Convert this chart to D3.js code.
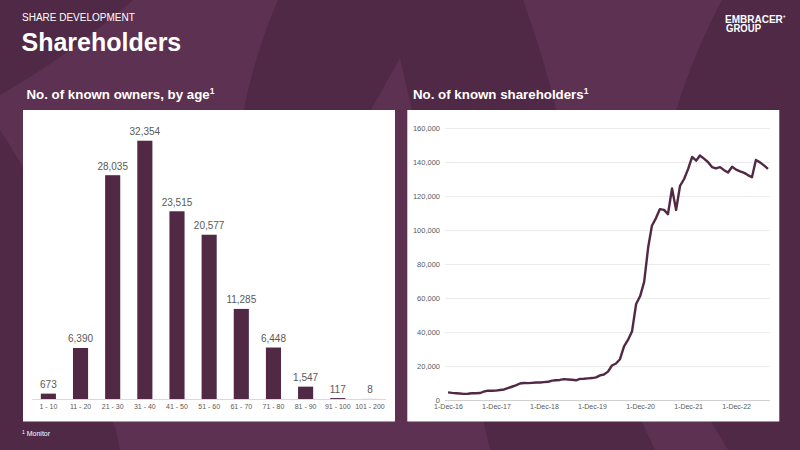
<!DOCTYPE html>
<html>
<head>
<meta charset="utf-8">
<script src="https://cdn.jsdelivr.net/npm/d3@7"></script>
<style>
html,body{margin:0;padding:0;background:#4f2946;}
svg{display:block;font-family:"Liberation Sans",Arial,sans-serif;}
</style>
</head>
<body>
<svg id="chart" width="800" height="450"></svg>
<script>
// ---- data ----
const ageCategories = ["1 - 10","11 - 20","21 - 30","31 - 40","41 - 50","51 - 60","61 - 70","71 - 80","81 - 90","91 - 100","101 - 200"];
const ageOwners = [673, 6390, 28035, 32354, 23515, 20577, 11285, 6448, 1547, 117, 8];

const lineStart = "2016-12-01"; // monthly series, first month
const shareholders = [
  4500, 4200, 4000, 3800, 3600, 3700, 4000, 4000, 4100, 5000, 5500, 5400,
  5500, 5900, 6200, 7000, 7800, 8600, 9700, 10000, 9900, 10100, 10300, 10300,
  10500, 10700, 11400, 11600, 11800, 12300, 12100, 11900, 11600, 12400, 12500, 12700,
  12900, 13300, 14500, 15000, 16700, 20300, 21500, 24000, 31500, 35500, 40500, 56500,
  61000, 69500, 90000, 102500, 107000, 112300, 111800, 109300, 124500, 111800, 126000, 130000,
  135800, 143000, 140800, 143800, 142000, 140000, 137000, 136200, 137000, 135200, 133800, 137200,
  135500, 134500, 133600, 132300, 131000, 141200, 139800, 138000, 135900
];
const yTicks = [0, 20000, 40000, 60000, 80000, 100000, 120000, 140000, 160000];
const xTickDates = ["2016-12-01","2017-12-01","2018-12-01","2019-12-01","2020-12-01","2021-12-01","2022-12-01"];
const xTickLabels = ["1-Dec-16","1-Dec-17","1-Dec-18","1-Dec-19","1-Dec-20","1-Dec-21","1-Dec-22"];

// ---- style ----
const BG_LIGHT = "#5c3151";
const MARK = "#512945";
const GRAY = "#595959";

const svg = d3.select("#chart");

// background shapes
const bgShapes = [
  "M133,0 L278,0 Q252,60 240,130 L225,450 L120,450 Q80,250 0,130 L0,95 Q70,55 133,0 Z",
  "M400,58 L490,450 L180,450 Z",
  "M110,418 L480,418 L487,450 L128,450 Z",
  "M523,0 L722,0 Q690,60 672,125 L560,125 Q545,60 523,0 Z",
  "M640,418 L709,418 L728,450 L655,450 Z"
];
svg.selectAll("path.bg").data(bgShapes).join("path")
  .attr("class","bg").attr("d", d => d).attr("fill", BG_LIGHT);

// header
svg.append("text").attr("x",22).attr("y",20.7).attr("fill","#fff")
  .attr("font-size",10).text("SHARE DEVELOPMENT");
svg.append("text").attr("x",21.5).attr("y",50.7).attr("fill","#fff")
  .attr("font-size",25).attr("font-weight","bold").text("Shareholders");

// logo
const logo = svg.append("g").attr("fill","#fff").attr("font-weight","bold")
  .attr("font-family","'Liberation Sans Narrow','Arial Narrow',sans-serif");
const emb = logo.append("text").attr("x",725).attr("y",22.5).attr("font-size",10).text("EMBRACER");
emb.append("tspan").attr("font-size",5).attr("dy",-5).text("+");
logo.append("text").attr("x",726).attr("y",32.3).attr("font-size",10)
  .attr("textLength",35).attr("lengthAdjust","spacingAndGlyphs").text("GROUP");

// panel titles
function title(x, txt) {
  const t = svg.append("text").attr("x",x).attr("y",99).attr("fill","#fff")
    .attr("font-size",13.3).attr("font-weight","bold").text(txt);
  t.append("tspan").attr("font-size",8.5).attr("dy",-5).text("1");
}
title(26.5, "No. of known owners, by age");
title(413, "No. of known shareholders");

// panels
svg.append("rect").attr("x",23).attr("y",110).attr("width",372).attr("height",311.5).attr("fill","#fff");
svg.append("rect").attr("x",407.3).attr("y",110).attr("width",372).attr("height",311.5).attr("fill","#fff");

// footnote
const fn = svg.append("text").attr("x",22).attr("y",436).attr("fill","#fff").attr("font-size",7);
fn.append("tspan").attr("font-size",5).attr("dy",-2.5).text("1");
fn.append("tspan").attr("dy",2.5).text(" Monitor");

// ---- left bar chart ----
const xb = d3.scaleBand().domain(ageCategories).range([32.3, 386]).paddingInner(0.53).paddingOuter(0.265);
const yb = d3.scaleLinear().domain([0, 35000]).range([399, 119.6]);
const bars = svg.append("g");
bars.append("line").attr("x1",32.3).attr("x2",386).attr("y1",399.5).attr("y2",399.5)
  .attr("stroke","#d9d9d9").attr("stroke-width",1);
bars.selectAll("rect.bar").data(ageOwners).join("rect").attr("class","bar")
  .attr("x",(d,i)=>xb(ageCategories[i])).attr("width",xb.bandwidth())
  .attr("y",d=>yb(d)).attr("height",d=>yb(0)-yb(d)).attr("fill",MARK);
bars.selectAll("text.val").data(ageOwners).join("text").attr("class","val")
  .attr("x",(d,i)=>xb(ageCategories[i])+xb.bandwidth()/2)
  .attr("y",d=>yb(d)-5.5).attr("text-anchor","middle").attr("font-size",10)
  .attr("fill",GRAY).text(d=>d3.format(",")(d));
bars.selectAll("text.cat").data(ageCategories).join("text").attr("class","cat")
  .attr("x",d=>xb(d)+xb.bandwidth()/2).attr("y",409).attr("text-anchor","middle")
  .attr("font-size",7).attr("fill",GRAY).text(d=>d);

// ---- right line chart ----
const parse = d3.utcParse("%Y-%m-%d");
const t0 = parse(lineStart);
const lineData = shareholders.map((v,i)=>({date:d3.utcMonth.offset(t0,i), value:v}));
const xl = d3.scaleUtc().domain([t0, lineData[lineData.length-1].date]).range([448, 768]);
const yl = d3.scaleLinear().domain([0,160000]).range([400,128]);

const yAxis = svg.append("g").attr("transform","translate(445,0)")
  .call(d3.axisLeft(yl).tickValues(yTicks).tickSize(-325).tickPadding(5).tickFormat(d3.format(",")));
yAxis.select(".domain").remove();
yAxis.selectAll(".tick line").attr("stroke",(d)=>d===0?"#d0d0d0":"#ececec");
yAxis.selectAll(".tick text").attr("fill",GRAY).attr("font-size",7.5)
  .attr("font-family","'Liberation Sans',Arial,sans-serif");

const xAxis = svg.append("g").attr("transform","translate(0,400)")
  .call(d3.axisBottom(xl).tickValues(xTickDates.map(parse)).tickSize(0).tickPadding(4.5)
    .tickFormat((d,i)=>xTickLabels[i]));
xAxis.select(".domain").remove();
xAxis.selectAll(".tick text").attr("fill",GRAY).attr("font-size",7)
  .attr("font-family","'Liberation Sans',Arial,sans-serif");

svg.append("path").datum(lineData)
  .attr("d", d3.line().x(d=>xl(d.date)).y(d=>yl(d.value)))
  .attr("fill","none").attr("stroke",MARK).attr("stroke-width",2.4)
  .attr("stroke-linejoin","round");
</script>
</body>
</html>
